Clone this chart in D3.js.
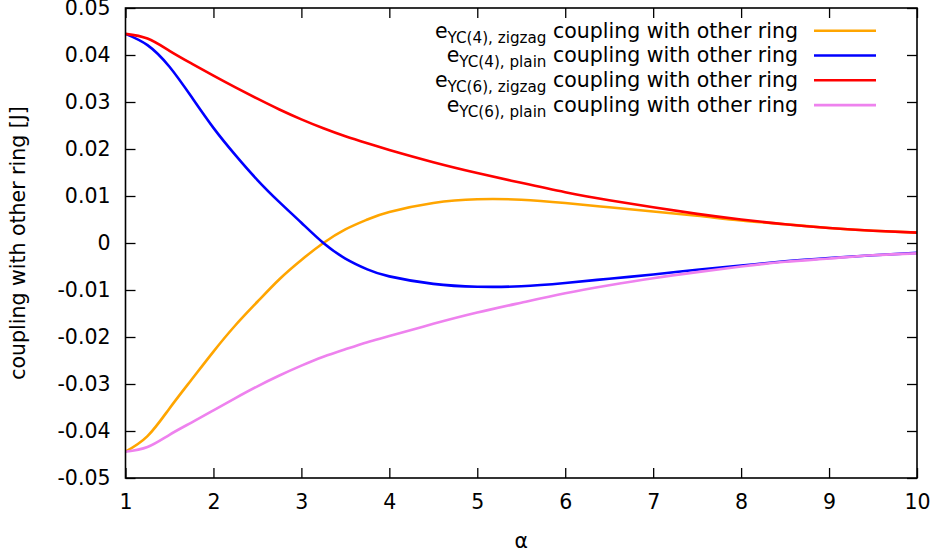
<!DOCTYPE html>
<html>
<head>
<meta charset="utf-8">
<script src="https://cdn.jsdelivr.net/npm/d3@7"></script>
<style>
  body { margin: 0; background: #fff; }
  svg { font-family: "DejaVu Sans", sans-serif; }
  text { white-space: pre; }
</style>
</head>
<body>
<svg id="chart" width="938" height="555"></svg>
<script>
// alpha sample points
const alphas = [1, 1.25, 1.5, 1.75, 2, 2.25, 2.5, 2.75, 3, 3.25, 3.5, 3.75, 4, 4.5, 5, 5.5, 6, 6.5, 7, 7.5, 8, 8.5, 9, 9.5, 10];

const yc4Zigzag = [-0.0444, -0.0411, -0.0352, -0.0291, -0.0231, -0.0175, -0.0125, -0.0077, -0.0036, 0.0000, 0.0029, 0.0050, 0.0066, 0.0085, 0.0093, 0.0092, 0.0085, 0.0076, 0.0067, 0.0058, 0.0048, 0.0040, 0.0032, 0.0026, 0.0022];
const yc4Plain = [0.0445, 0.0421, 0.0375, 0.0311, 0.0245, 0.0187, 0.0134, 0.0087, 0.0043, 0.0000, -0.0033, -0.0056, -0.0071, -0.0087, -0.0093, -0.0092, -0.0085, -0.0076, -0.0067, -0.0057, -0.0048, -0.0039, -0.0032, -0.0026, -0.0021];
const yc6Zigzag = [0.0445, 0.0435, 0.0409, 0.0382, 0.0356, 0.0331, 0.0307, 0.0284, 0.0263, 0.0244, 0.0227, 0.0212, 0.0198, 0.0172, 0.0149, 0.0128, 0.0108, 0.0091, 0.0076, 0.0062, 0.0050, 0.0040, 0.0032, 0.0026, 0.0022];
const yc6Plain = [-0.0444, -0.0434, -0.0408, -0.0382, -0.0356, -0.0330, -0.0305, -0.0282, -0.0261, -0.0242, -0.0226, -0.0211, -0.0198, -0.0172, -0.0148, -0.0127, -0.0107, -0.0090, -0.0075, -0.0062, -0.0050, -0.0040, -0.0033, -0.0026, -0.0022];

const seriesNames = ["YC(4), zigzag", "YC(4), plain", "YC(6), zigzag", "YC(6), plain"];
const seriesColors = ["#ffa500", "#0000ff", "#ff0000", "#ee82ee"];
const seriesValues = [yc4Zigzag, yc4Plain, yc6Zigzag, yc6Plain];

const xTicks = [1, 2, 3, 4, 5, 6, 7, 8, 9, 10];
const yTicks = [-0.05, -0.04, -0.03, -0.02, -0.01, 0, 0.01, 0.02, 0.03, 0.04, 0.05];

const margin = { top: 8, right: 21, bottom: 77, left: 125.5 };
const width = 938 - margin.left - margin.right;
const height = 555 - margin.top - margin.bottom;
const fontSize = 20.5;

const svg = d3.select('#chart');
const g = svg.append('g').attr('transform', `translate(${margin.left},${margin.top})`);

const x = d3.scaleLinear().domain([1, 10]).range([0, width]);
const y = d3.scaleLinear().domain([-0.05, 0.05]).range([height, 0]);

// gnuplot style labels: plain hyphen for minus
const fmt = d => d === 0 ? '0' : d3.format('.2f')(d).replace('\u2212', '-');

// ticks on all four sides, pointing inward
const tickLen = 10;
const axes = [
  d3.axisBottom(x).tickValues(xTicks).tickSize(-tickLen).tickPadding(16),
  d3.axisTop(x).tickValues(xTicks).tickSize(-tickLen).tickFormat(''),
  d3.axisLeft(y).tickValues(yTicks).tickSize(-tickLen).tickPadding(15).tickFormat(fmt),
  d3.axisRight(y).tickValues(yTicks).tickSize(-tickLen).tickFormat('')
];
const shifts = [`translate(0,${height})`, 'translate(0,0)', 'translate(0,0)', `translate(${width},0)`];
axes.forEach((ax, i) => {
  const a = g.append('g').attr('transform', shifts[i]).call(ax);
  a.select('.domain').remove();
  a.selectAll('.tick line').attr('stroke', '#000').attr('stroke-width', 1.3);
  a.selectAll('text').attr('font-size', fontSize).attr('fill', '#000').attr('font-family', '"DejaVu Sans", sans-serif');
});

// the curves
const line = d3.line()
  .x(d => x(d[0]))
  .y(d => y(d[1]))
  .curve(d3.curveNatural);

seriesValues.forEach((vals, i) => {
  g.append('path')
    .datum(alphas.map((a, j) => [a, vals[j]]))
    .attr('fill', 'none')
    .attr('stroke', seriesColors[i])
    .attr('stroke-width', 2.6)
    .attr('d', line);
});

// border
g.append('rect')
  .attr('width', width).attr('height', height)
  .attr('fill', 'none').attr('stroke', '#000').attr('stroke-width', 1.6);

// legend
const legend = g.append('g');
seriesNames.forEach((name, i) => {
  const cy = 22.7 + i * 24.8;
  const t = legend.append('text')
    .attr('x', 798 - margin.left)
    .attr('y', cy + 6.8)
    .attr('text-anchor', 'end')
    .attr('font-size', fontSize)
    .attr('fill', '#000');
  t.append('tspan').text('e');
  t.append('tspan').attr('font-size', 15.2).attr('dy', 5).text(name);
  t.append('tspan').attr('dy', -5).text(' coupling with other ring');
  legend.append('line')
    .attr('x1', 814 - margin.left).attr('x2', 876 - margin.left)
    .attr('y1', cy).attr('y2', cy)
    .attr('stroke', seriesColors[i]).attr('stroke-width', 2.6);
});

// axis titles
svg.append('text')
  .attr('transform', `translate(25,${margin.top + height / 2}) rotate(-90)`)
  .attr('text-anchor', 'middle')
  .attr('font-size', fontSize)
  .text('coupling with other ring [J]');

svg.append('text')
  .attr('x', margin.left + width / 2)
  .attr('y', 548)
  .attr('text-anchor', 'middle')
  .attr('font-size', fontSize)
  .text('α');
</script>
</body>
</html>
